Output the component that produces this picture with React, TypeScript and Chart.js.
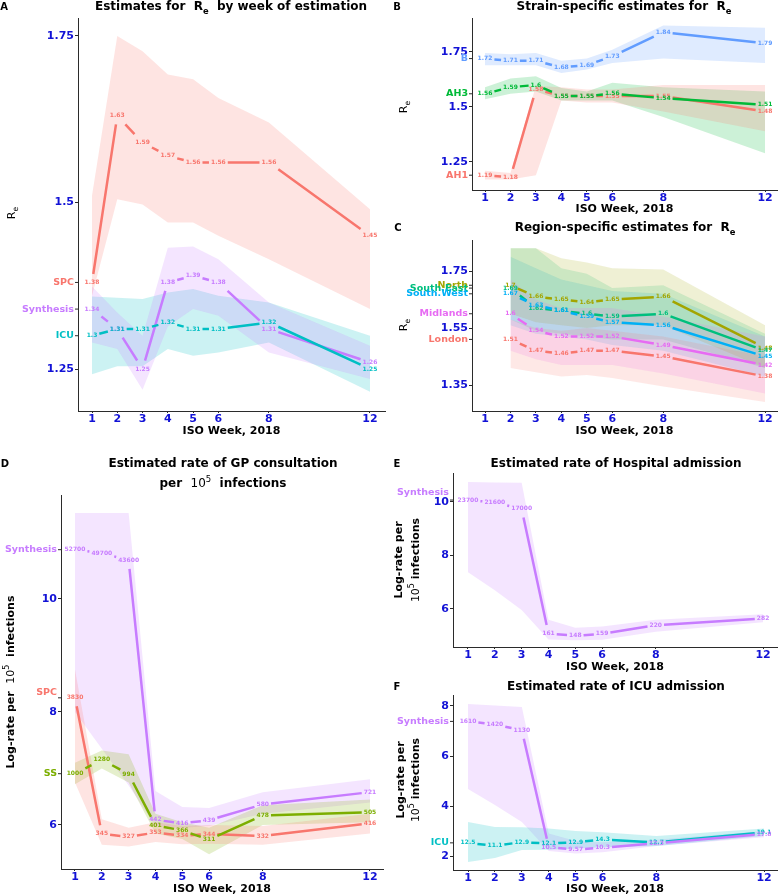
import React, { useEffect, useRef } from 'react';
import { Chart, registerables } from 'chart.js';

Chart.register(...registerables);

const FONT = "'DejaVu Sans', 'Noto Sans', sans-serif";
const TICK_BLUE = '#1212D6';
const AXIS = '#2b2b2b';

const RED = '#F8766D';
const OLIVE = '#7CAE00';
const TEAL = '#00BFC4';
const PURPLE = '#C77CFF';
const GREEN3 = '#00BA38';
const BLUE3 = '#619CFF';
const R_LONDON = '#F8766D';
const R_NORTH = '#A3A500';
const R_SE = '#00BF7D';
const R_SW = '#00B0F6';
const R_MID = '#E76BF3';

// ---------- data ----------
const WEEKS = [1, 2, 3, 4, 5, 6, 8, 12];
const WEEKS_REGION = [2, 3, 4, 5, 6, 8, 12];
const X_TICKS = [1, 2, 3, 4, 5, 6, 8, 12];

// Panel A: Re by week of estimation
const A_SPC = [1.38, 1.63, 1.59, 1.57, 1.56, 1.56, 1.56, 1.45];
const A_SPC_LO = [1.36, 1.505, 1.497, 1.47, 1.47, 1.45, 1.415, 1.34];
const A_SPC_HI = [1.51, 1.75, 1.727, 1.692, 1.685, 1.657, 1.62, 1.49];
const A_SYN = [1.34, 1.31, 1.25, 1.38, 1.39, 1.38, 1.31, 1.26];
const A_SYN_LO = [1.29, 1.28, 1.219, 1.314, 1.34, 1.33, 1.275, 1.235];
const A_SYN_HI = [1.374, 1.335, 1.3, 1.432, 1.434, 1.415, 1.35, 1.285];
const A_ICU = [1.3, 1.31, 1.31, 1.32, 1.31, 1.31, 1.32, 1.25];
const A_ICU_LO = [1.242, 1.254, 1.254, 1.28, 1.27, 1.275, 1.29, 1.216];
const A_ICU_HI = [1.359, 1.357, 1.355, 1.365, 1.37, 1.36, 1.35, 1.3];

// Panel B: strain-specific
const B_AH1 = [1.19, 1.18, 1.58, 1.55, 1.55, 1.55, 1.55, 1.48];
const B_AH1_LO = [1.17, 1.17, 1.19, 1.53, 1.52, 1.52, 1.48, 1.39];
const B_AH1_HI = [1.21, 1.2, 1.595, 1.59, 1.58, 1.58, 1.6, 1.6];
const B_AH3 = [1.56, 1.59, 1.6, 1.55, 1.55, 1.56, 1.54, 1.51];
const B_AH3_LO = [1.535, 1.56, 1.57, 1.53, 1.53, 1.53, 1.455, 1.29];
const B_AH3_HI = [1.59, 1.63, 1.64, 1.586, 1.57, 1.61, 1.59, 1.57];
const B_B = [1.72, 1.71, 1.71, 1.68, 1.69, 1.73, 1.84, 1.79];
const B_B_LO = [1.69, 1.69, 1.69, 1.655, 1.67, 1.7, 1.72, 1.7];
const B_B_HI = [1.745, 1.74, 1.745, 1.71, 1.72, 1.76, 1.87, 1.86];

// Panel C: region-specific (weeks 2..12)
const C_NORTH = [1.7, 1.66, 1.65, 1.64, 1.65, 1.66, 1.48];
const C_NORTH_LO = [1.6, 1.57, 1.56, 1.55, 1.56, 1.56, 1.41];
const C_NORTH_HI = [1.83, 1.83, 1.795, 1.78, 1.76, 1.755, 1.56];
const C_SE = [1.69, 1.62, 1.61, 1.6, 1.59, 1.6, 1.47];
const C_SE_LO = [1.58, 1.54, 1.53, 1.52, 1.51, 1.51, 1.41];
const C_SE_HI = [1.83, 1.83, 1.76, 1.74, 1.69, 1.7, 1.53];
const C_SW = [1.67, 1.63, 1.61, 1.59, 1.57, 1.56, 1.45];
const C_SW_LO = [1.56, 1.53, 1.52, 1.51, 1.49, 1.47, 1.38];
const C_SW_HI = [1.8, 1.76, 1.72, 1.7, 1.68, 1.67, 1.52];
const C_MID = [1.6, 1.54, 1.52, 1.52, 1.52, 1.49, 1.42];
const C_MID_LO = [1.47, 1.44, 1.42, 1.42, 1.42, 1.39, 1.32];
const C_MID_HI = [1.72, 1.65, 1.62, 1.62, 1.62, 1.59, 1.52];
const C_LON = [1.51, 1.47, 1.46, 1.47, 1.47, 1.45, 1.38];
const C_LON_LO = [1.41, 1.395, 1.38, 1.385, 1.375, 1.345, 1.29];
const C_LON_HI = [1.58, 1.55, 1.54, 1.55, 1.54, 1.52, 1.45];

// Panel D: GP consultation per 1e5 infections (labels = counts, bands in log units)
const D_SYN = [52700, 49700, 43600, 442, 416, 439, 580, 721];
const D_SYN_LOG_LO = [8.0, 7.35, 6.7, 5.98, 5.95, 5.98, 6.2, 6.4];
const D_SYN_LOG_HI = [11.52, 11.52, 11.52, 6.6, 6.32, 6.3, 6.58, 6.81];
const D_SPC = [3830, 345, 327, 353, 334, 344, 332, 416];
const D_SPC_LOG_LO = [6.75, 5.65, 5.62, 5.7, 5.66, 5.67, 5.65, 5.85];
const D_SPC_LOG_HI = [8.75, 6.1, 5.95, 6.05, 5.98, 6.0, 5.98, 6.2];
const D_SS = [1000, 1280, 994, 401, 366, 311, 478, 505];
const D_SS_LOG_LO = [6.72, 7.0, 6.75, 5.85, 5.75, 5.48, 6.0, 6.05];
const D_SS_LOG_HI = [7.1, 7.32, 7.25, 6.2, 6.05, 5.95, 6.35, 6.45];

// Panel E: hospital admission
const E_SYN = [23700, 21600, 17000, 161, 148, 159, 220, 282];
const E_SYN_LOG_LO = [7.37, 6.7, 5.96, 4.86, 4.83, 4.85, 5.15, 5.5];
const E_SYN_LOG_HI = [10.75, 10.73, 10.72, 5.6, 5.3, 5.35, 5.6, 5.8];

// Panel F: ICU admission
const F_SYN = [1610, 1420, 1130, 10.5, 9.57, 10.3, 12.3, 17.8];
const F_SYN_LOG_LO = [4.68, 4.04, 3.36, 2.2, 2.1, 2.15, 2.4, 2.75];
const F_SYN_LOG_HI = [8.08, 8.02, 7.96, 2.9, 2.6, 2.55, 2.65, 3.0];
const F_ICU = [12.5, 11.1, 12.9, 12.1, 12.9, 14.3, 12.7, 19.1];
const F_ICU_LOG_LO = [1.76, 1.92, 2.24, 2.25, 2.3, 2.35, 2.4, 2.8];
const F_ICU_LOG_HI = [3.36, 3.16, 3.15, 3.1, 3.0, 2.95, 2.8, 3.1];

// ---------- types ----------
type Run = { t: string; size: number; bold?: boolean; dy?: number };
type Rich = { runs: Run[]; x: number; y: number; rot?: boolean };
type Series = {
  name: string; color: string; weeks: number[]; vals: number[];
  lo: number[]; hi: number[]; log?: boolean; catDy?: number;
};
type PanelSpec = {
  id: string; left: number; top: number; width: number; height: number;
  L: number; T: number; R: number; B: number; xTitleY: number;
  xMin: number; xMax: number; yMin: number; yMax: number; yTicks: number[];
  alpha: number; series: Series[]; texts: Rich[];
};

const rgba = (hex: string, a: number) => {
  const n = parseInt(hex.slice(1), 16);
  return `rgba(${(n >> 16) & 255},${(n >> 8) & 255},${n & 255},${a})`;
};

const b12 = (t: string): Run => ({ t, size: 12, bold: true });
const Re = (size: number, bold: boolean): Run[] => [
  { t: 'R', size, bold },
  { t: 'e', size: size * 0.7, bold, dy: size * 0.28 },
];
const logTitleOne: Run[] = [
  { t: 'Log-rate per  ', size: 11, bold: true },
  { t: '10', size: 11 },
  { t: '5', size: 8, dy: -5 },
  { t: '  infections', size: 11, bold: true },
];
const logLine1: Run[] = [{ t: 'Log-rate per', size: 11, bold: true }];
const logLine2: Run[] = [
  { t: '10', size: 11 },
  { t: '5', size: 8, dy: -5 },
  { t: ' infections', size: 11, bold: true },
];

// ---------- panels ----------
const PANELS: PanelSpec[] = [
  {
    id: 'A', left: 0, top: 0, width: 390, height: 445,
    L: 78, T: 18, R: 385, B: 411, xTitleY: 431,
    xMin: 0.446, xMax: 12.594, yMin: 1.187, yMax: 1.777, yTicks: [1.25, 1.5, 1.75],
    alpha: 0.2,
    series: [
      { name: 'SPC', color: RED, weeks: WEEKS, vals: A_SPC, lo: A_SPC_LO, hi: A_SPC_HI },
      { name: 'Synthesis', color: PURPLE, weeks: WEEKS, vals: A_SYN, lo: A_SYN_LO, hi: A_SYN_HI },
      { name: 'ICU', color: TEAL, weeks: WEEKS, vals: A_ICU, lo: A_ICU_LO, hi: A_ICU_HI },
    ],
    texts: [
      { runs: [{ t: 'A', size: 10, bold: true }], x: 4, y: 6 },
      { runs: [b12('Estimates for  '), ...Re(12, true), b12('  by week of estimation')], x: 231, y: 6 },
      { runs: Re(11, false), x: 11, y: 213, rot: true },
    ],
  },
  {
    id: 'B', left: 390, top: 0, width: 388, height: 218,
    L: 472, T: 18, R: 777, B: 190, xTitleY: 209,
    xMin: 0.489, xMax: 12.47, yMin: 1.1227, yMax: 1.9045, yTicks: [1.25, 1.5, 1.75],
    alpha: 0.2,
    series: [
      { name: 'AH1', color: RED, weeks: WEEKS, vals: B_AH1, lo: B_AH1_LO, hi: B_AH1_HI },
      { name: 'AH3', color: GREEN3, weeks: WEEKS, vals: B_AH3, lo: B_AH3_LO, hi: B_AH3_HI },
      { name: 'B', color: BLUE3, weeks: WEEKS, vals: B_B, lo: B_B_LO, hi: B_B_HI },
    ],
    texts: [
      { runs: [{ t: 'B', size: 10, bold: true }], x: 397, y: 6 },
      { runs: [b12('Strain-specific estimates for  '), ...Re(12, true)], x: 624, y: 6 },
      { runs: Re(11, false), x: 403, y: 107, rot: true },
    ],
  },
  {
    id: 'C', left: 390, top: 215, width: 388, height: 230,
    L: 472, T: 240, R: 777, B: 411, xTitleY: 431,
    xMin: 0.489, xMax: 12.47, yMin: 1.2588, yMax: 1.8588, yTicks: [1.35, 1.55, 1.75],
    alpha: 0.17,
    series: [
      { name: 'London', color: R_LONDON, weeks: WEEKS_REGION, vals: C_LON, lo: C_LON_LO, hi: C_LON_HI },
      { name: 'Midlands', color: R_MID, weeks: WEEKS_REGION, vals: C_MID, lo: C_MID_LO, hi: C_MID_HI },
      { name: 'North', color: R_NORTH, weeks: WEEKS_REGION, vals: C_NORTH, lo: C_NORTH_LO, hi: C_NORTH_HI },
      { name: 'South.East', color: R_SE, weeks: WEEKS_REGION, vals: C_SE, lo: C_SE_LO, hi: C_SE_HI },
      { name: 'South.West', color: R_SW, weeks: WEEKS_REGION, vals: C_SW, lo: C_SW_LO, hi: C_SW_HI },
    ],
    texts: [
      { runs: [{ t: 'C', size: 10, bold: true }], x: 398, y: 227 },
      { runs: [b12('Region-specific estimates for  '), ...Re(12, true)], x: 625, y: 227 },
      { runs: Re(11, false), x: 403, y: 325, rot: true },
    ],
  },
  {
    id: 'D', left: 0, top: 445, width: 390, height: 450,
    L: 61, T: 495, R: 383, B: 869, xTitleY: 889,
    xMin: 0.478, xMax: 12.485, yMin: 5.221, yMax: 11.84, yTicks: [6, 8, 10],
    alpha: 0.2,
    series: [
      { name: 'SPC', color: RED, weeks: WEEKS, vals: D_SPC, lo: D_SPC_LOG_LO, hi: D_SPC_LOG_HI, log: true, catDy: -5 },
      { name: 'SS', color: OLIVE, weeks: WEEKS, vals: D_SS, lo: D_SS_LOG_LO, hi: D_SS_LOG_HI, log: true },
      { name: 'Synthesis', color: PURPLE, weeks: WEEKS, vals: D_SYN, lo: D_SYN_LOG_LO, hi: D_SYN_LOG_HI, log: true },
    ],
    texts: [
      { runs: [{ t: 'D', size: 10, bold: true }], x: 5, y: 463 },
      { runs: [b12('Estimated rate of GP consultation')], x: 223, y: 463 },
      { runs: [b12('per  '), { t: '10', size: 12 }, { t: '5', size: 8.5, dy: -5 }, b12('  infections')], x: 223, y: 483 },
      { runs: logTitleOne, x: 10, y: 682, rot: true },
    ],
  },
  {
    id: 'E', left: 390, top: 445, width: 388, height: 232,
    L: 453, T: 473, R: 777, B: 647, xTitleY: 667,
    xMin: 0.441, xMax: 12.52, yMin: 4.579, yMax: 11.084, yTicks: [6, 8, 10],
    alpha: 0.2,
    series: [
      { name: 'Synthesis', color: PURPLE, weeks: WEEKS, vals: E_SYN, lo: E_SYN_LOG_LO, hi: E_SYN_LOG_HI, log: true, catDy: -8 },
    ],
    texts: [
      { runs: [{ t: 'E', size: 10, bold: true }], x: 397, y: 463 },
      { runs: [b12('Estimated rate of Hospital admission')], x: 616, y: 463 },
      { runs: logLine1, x: 398, y: 560, rot: true },
      { runs: logLine2, x: 415, y: 560, rot: true },
    ],
  },
  {
    id: 'F', left: 390, top: 677, width: 388, height: 218,
    L: 453, T: 695, R: 777, B: 870, xTitleY: 889,
    xMin: 0.442, xMax: 12.48, yMin: 1.44, yMax: 8.44, yTicks: [2, 4, 6, 8],
    alpha: 0.2,
    series: [
      { name: 'ICU', color: TEAL, weeks: WEEKS, vals: F_ICU, lo: F_ICU_LOG_LO, hi: F_ICU_LOG_HI, log: true },
      { name: 'Synthesis', color: PURPLE, weeks: WEEKS, vals: F_SYN, lo: F_SYN_LOG_LO, hi: F_SYN_LOG_HI, log: true },
    ],
    texts: [
      { runs: [{ t: 'F', size: 10, bold: true }], x: 397, y: 686 },
      { runs: [b12('Estimated rate of ICU admission')], x: 616, y: 686 },
      { runs: logLine1, x: 400, y: 780, rot: true },
      { runs: logLine2, x: 415, y: 780, rot: true },
    ],
  },
];

// ---------- drawing helpers ----------
function drawRich(ctx: CanvasRenderingContext2D, rt: Rich, ox: number, oy: number) {
  ctx.save();
  ctx.fillStyle = '#000';
  ctx.textBaseline = 'alphabetic';
  ctx.textAlign = 'left';
  const fonts = rt.runs.map((r) => `${r.bold ? 'bold ' : ''}${r.size}px ${FONT}`);
  let total = 0;
  const widths = rt.runs.map((r, i) => {
    ctx.font = fonts[i];
    const w = ctx.measureText(r.t).width;
    total += w;
    return w;
  });
  const main = Math.max(...rt.runs.map((r) => r.size));
  ctx.translate(rt.x - ox, rt.y - oy);
  if (rt.rot) ctx.rotate(-Math.PI / 2);
  let x = -total / 2;
  const base = main * 0.36;
  rt.runs.forEach((r, i) => {
    ctx.font = fonts[i];
    ctx.fillText(r.t, x, base + (r.dy || 0));
    x += widths[i];
  });
  ctx.restore();
}

const LABEL_FONT = `bold 6px ${FONT}`;

function makePlugin(p: PanelSpec) {
  const n = p.series.length;
  return {
    id: 'deco' + p.id,
    afterDatasetsDraw(chart: any) {
      const ctx: CanvasRenderingContext2D = chart.ctx;
      const all = p.series.map((s, si) => {
        const meta = chart.getDatasetMeta(2 * n + si);
        ctx.font = LABEL_FONT;
        const texts = s.vals.map((v) => String(v));
        const boxes = meta.data.map((el: any, i: number) => ({
          x: el.x, y: el.y, t: texts[i],
          hw: ctx.measureText(texts[i]).width / 2 + 2, hh: 8.5,
        }));
        return { s, boxes };
      });
      ctx.save();
      all.forEach(({ s, boxes }) => {
        ctx.strokeStyle = s.color;
        ctx.lineWidth = 2.5;
        ctx.lineCap = 'butt';
        ctx.beginPath();
        for (let i = 0; i < boxes.length - 1; i++) {
          const a = boxes[i];
          const b = boxes[i + 1];
          const dx = b.x - a.x;
          const dy = b.y - a.y;
          const exitT = (bx: any) =>
            Math.min(dx !== 0 ? bx.hw / Math.abs(dx) : Infinity, dy !== 0 ? bx.hh / Math.abs(dy) : Infinity);
          const t0 = exitT(a);
          const t1 = 1 - exitT(b);
          if (t1 > t0) {
            ctx.moveTo(a.x + dx * t0, a.y + dy * t0);
            ctx.lineTo(a.x + dx * t1, a.y + dy * t1);
          }
        }
        ctx.stroke();
      });
      ctx.font = LABEL_FONT;
      ctx.textAlign = 'center';
      ctx.textBaseline = 'middle';
      all.forEach(({ s, boxes }) => {
        ctx.fillStyle = s.color;
        boxes.forEach((b: any) => ctx.fillText(b.t, b.x, b.y));
      });
      ctx.restore();
    },
    afterDraw(chart: any) {
      const ctx: CanvasRenderingContext2D = chart.ctx;
      const ys = chart.scales.y;
      const left = chart.chartArea.left;
      ctx.save();
      p.series.forEach((s) => {
        const v = s.log ? Math.log(s.vals[0]) : s.vals[0];
        const py = ys.getPixelForValue(v);
        ctx.strokeStyle = AXIS;
        ctx.lineWidth = 1;
        ctx.beginPath();
        ctx.moveTo(left - 3, py);
        ctx.lineTo(left, py);
        ctx.stroke();
        ctx.font = `bold 9.5px ${FONT}`;
        ctx.fillStyle = s.color;
        ctx.textAlign = 'right';
        ctx.textBaseline = 'middle';
        ctx.fillText(s.name, left - 4, py + (s.catDy || 0));
      });
      ctx.restore();
      p.texts.forEach((t) => drawRich(ctx, t, p.left, p.top));
    },
  };
}

function buildChart(canvas: HTMLCanvasElement, p: PanelSpec) {
  const padding = {
    left: 0,
    top: p.T - p.top,
    right: p.left + p.width - p.R,
    bottom: p.top + p.height - (p.xTitleY + 5.5),
  };
  const yW = p.L - p.left;
  const xH = p.xTitleY + 5.5 - p.B;
  const datasets: any[] = [];
  p.series.forEach((s) => {
    datasets.push({
      data: s.weeks.map((w, i) => ({ x: w, y: s.lo[i] })),
      borderWidth: 0, pointRadius: 0, fill: false,
      borderColor: 'rgba(0,0,0,0)', backgroundColor: 'rgba(0,0,0,0)', tension: 0,
    });
    datasets.push({
      data: s.weeks.map((w, i) => ({ x: w, y: s.hi[i] })),
      borderWidth: 0, pointRadius: 0, fill: '-1',
      borderColor: 'rgba(0,0,0,0)', backgroundColor: rgba(s.color, p.alpha), tension: 0,
    });
  });
  p.series.forEach((s) => {
    datasets.push({
      data: s.weeks.map((w, i) => ({ x: w, y: s.log ? Math.log(s.vals[i]) : s.vals[i] })),
      showLine: false, pointRadius: 0, borderWidth: 0,
      borderColor: s.color, backgroundColor: s.color,
    });
  });
  const tickFont = { family: FONT, size: 11, weight: 'bold' as const };
  return new Chart(canvas, {
    type: 'line',
    data: { datasets },
    options: {
      responsive: false,
      animation: false,
      devicePixelRatio: 1,
      events: [],
      layout: { padding },
      plugins: { legend: { display: false }, tooltip: { enabled: false }, title: { display: false } },
      scales: {
        x: {
          type: 'linear', min: p.xMin, max: p.xMax,
          afterBuildTicks: (sc: any) => { sc.ticks = X_TICKS.map((v) => ({ value: v })); },
          afterFit: (sc: any) => { sc.height = xH; },
          grid: { drawOnChartArea: false, drawTicks: true, tickLength: 2, color: AXIS },
          border: { display: true, color: AXIS, width: 1 },
          ticks: {
            color: TICK_BLUE, font: tickFont, padding: 0, autoSkip: false,
            maxRotation: 0, minRotation: 0, callback: (v: any) => String(v),
          },
          title: {
            display: true, text: 'ISO Week, 2018', color: '#000',
            font: { family: FONT, size: 11, weight: 'bold', lineHeight: 1 }, padding: 0,
          },
        },
        y: {
          type: 'linear', min: p.yMin, max: p.yMax,
          afterBuildTicks: (sc: any) => { sc.ticks = p.yTicks.map((v) => ({ value: v })); },
          afterFit: (sc: any) => { sc.width = yW; },
          grid: { drawOnChartArea: false, drawTicks: true, tickLength: 3, color: AXIS },
          border: { display: true, color: AXIS, width: 1 },
          ticks: { color: TICK_BLUE, font: tickFont, padding: 1, autoSkip: false, callback: (v: any) => String(v) },
        },
      },
    } as any,
    plugins: [makePlugin(p)],
  });
}

function Panel({ p }: { p: PanelSpec }) {
  const ref = useRef<HTMLCanvasElement>(null);
  useEffect(() => {
    const chart = buildChart(ref.current as HTMLCanvasElement, p);
    return () => chart.destroy();
  }, [p]);
  return (
    <canvas
      ref={ref}
      width={p.width}
      height={p.height}
      style={{ position: 'absolute', left: p.left, top: p.top, width: p.width, height: p.height }}
    />
  );
}

export default function App() {
  return (
    <div style={{ position: 'absolute', left: 0, top: 0, width: 778, height: 895, background: '#fff', overflow: 'hidden' }}>
      {PANELS.map((p) => (
        <Panel key={p.id} p={p} />
      ))}
    </div>
  );
}
